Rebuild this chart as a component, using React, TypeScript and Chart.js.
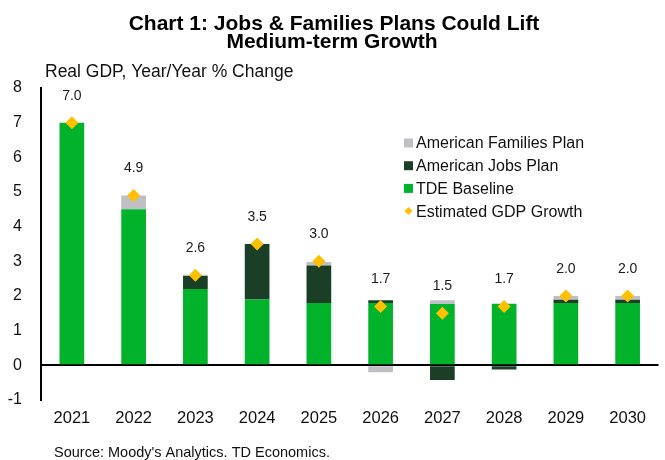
import React, { useEffect, useRef } from "react";
import { Chart, registerables } from "chart.js";

Chart.register(...registerables);

const years = ["2021", "2022", "2023", "2024", "2025", "2026", "2027", "2028", "2029", "2030"];
const tdeBaseline = [7.0, 4.5, 2.2, 1.9, 1.8, 1.8, 1.77, 1.78, 1.8, 1.8];
const jobsPlan = [0, 0, 0.38, 1.6, 1.08, 0.08, -0.42, -0.12, 0.09, 0.09];
const familiesPlan = [0, 0.4, 0.03, 0, 0.1, -0.2, 0.11, 0.0, 0.11, 0.11];
const gdpGrowth = [7.0, 4.9, 2.6, 3.5, 3.0, 1.7, 1.5, 1.7, 2.0, 2.0];

const titleLines = ["Chart 1: Jobs & Families Plans Could Lift", "Medium-term Growth"];
const subtitle = "Real GDP, Year/Year % Change";
const sourceText = "Source: Moody's Analytics. TD Economics.";

const GREEN = "#00B32A";
const DARK = "#1B3F26";
const GRAY = "#BFBFC4";
const GOLD = "#FFC000";
const FONT = "'Liberation Sans', Arial, sans-serif";

const legendItems = [
  { label: "American Families Plan", color: GRAY, kind: "box" },
  { label: "American Jobs Plan", color: DARK, kind: "box" },
  { label: "TDE Baseline", color: GREEN, kind: "box" },
  { label: "Estimated GDP Growth", color: GOLD, kind: "diamond" },
];

const decorPlugin = {
  id: "decor",
  afterDraw(chart: any) {
    const ctx = chart.ctx;
    ctx.save();
    // Title
    ctx.fillStyle = "#000";
    ctx.textAlign = "center";
    ctx.textBaseline = "alphabetic";
    ctx.font = `bold 21px ${FONT}`;
    ctx.fillText(titleLines[0], 334, 30);
    ctx.fillText(titleLines[1], 332, 48);
    // Subtitle
    ctx.textAlign = "left";
    ctx.font = `17.5px ${FONT}`;
    ctx.fillStyle = "#111";
    ctx.fillText(subtitle, 45, 77);
    // Source
    ctx.font = `14.5px ${FONT}`;
    ctx.fillText(sourceText, 54, 457);
    // Value labels
    const meta = chart.getDatasetMeta(0);
    ctx.font = `14px ${FONT}`;
    ctx.textAlign = "center";
    ctx.textBaseline = "middle";
    ctx.fillStyle = "#1a1a1a";
    meta.data.forEach((pt: any, i: number) => {
      ctx.fillText(gdpGrowth[i].toFixed(1), pt.x, pt.y - 27);
    });
    // Legend
    ctx.font = `16px ${FONT}`;
    ctx.textAlign = "left";
    legendItems.forEach((it, i) => {
      const cy = 143 + i * 22.7;
      ctx.fillStyle = it.color;
      if (it.kind === "box") {
        ctx.fillRect(404, cy - 4.5, 9, 9);
      } else {
        ctx.beginPath();
        ctx.moveTo(408.5, cy - 4);
        ctx.lineTo(412.5, cy);
        ctx.lineTo(408.5, cy + 4);
        ctx.lineTo(404.5, cy);
        ctx.closePath();
        ctx.fill();
      }
      ctx.fillStyle = "#111";
      ctx.fillText(it.label, 416, cy + 1);
    });
    ctx.restore();
  },
};

export default function App() {
  const ref = useRef<HTMLCanvasElement>(null);
  useEffect(() => {
    if (!ref.current) return;
    Chart.defaults.font.family = FONT;
    const chart = new Chart(ref.current, {
      type: "bar",
      data: {
        labels: years,
        datasets: [
          {
            type: "line",
            label: "Estimated GDP Growth",
            data: gdpGrowth,
            showLine: false,
            pointStyle: "rectRot",
            pointRadius: 6.5,
            pointHoverRadius: 6.5,
            pointBackgroundColor: GOLD,
            pointBorderWidth: 0,
            backgroundColor: GOLD,
            borderColor: GOLD,
            stack: "gdp",
            order: 0,
          } as any,
          {
            label: "TDE Baseline",
            data: tdeBaseline,
            backgroundColor: GREEN,
            stack: "bars",
            order: 1,
          },
          {
            label: "American Jobs Plan",
            data: jobsPlan,
            backgroundColor: DARK,
            stack: "bars",
            order: 1,
          },
          {
            label: "American Families Plan",
            data: familiesPlan,
            backgroundColor: GRAY,
            stack: "bars",
            order: 1,
          },
        ],
      },
      options: {
        responsive: false,
        animation: false,
        maintainAspectRatio: false,
        layout: { padding: { top: 88, left: 0, right: 5.6, bottom: 0 } },
        datasets: {
          bar: { barPercentage: 0.4, categoryPercentage: 1.0 },
        },
        plugins: {
          legend: { display: false },
          title: { display: false },
          tooltip: { enabled: false },
        },
        scales: {
          x: {
            stacked: true,
            grid: { display: false, drawTicks: false },
            border: { display: false },
            ticks: {
              color: "#111",
              font: { size: 16.5 },
              padding: 9,
              maxRotation: 0,
              autoSkip: false,
            },
            afterFit: (s: any) => {
              s.height = 60;
            },
          },
          y: {
            stacked: true,
            min: -1,
            max: 8,
            ticks: {
              stepSize: 1,
              color: "#111",
              font: { size: 16 },
              padding: 19,
            },
            grid: {
              drawTicks: false,
              drawOnChartArea: true,
              color: (c: any) => (c.tick && c.tick.value === 0 ? "#000" : "rgba(0,0,0,0)"),
              lineWidth: 2,
            },
            border: { display: true, color: "#000", width: 2 },
            afterFit: (s: any) => {
              s.width = 41;
            },
          },
        },
      },
      plugins: [decorPlugin],
    });
    return () => chart.destroy();
  }, []);
  return (
    <div style={{ position: "fixed", left: 0, top: 0, width: 665, height: 460, background: "#fff" }}>
      <canvas ref={ref} width={665} height={460} style={{ width: 665, height: 460 }} />
    </div>
  );
}
